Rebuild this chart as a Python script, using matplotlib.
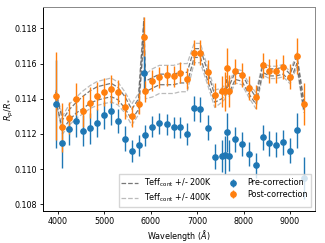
import numpy as np
import matplotlib
matplotlib.use("Agg")
import matplotlib.pyplot as plt

# wavelength bins (Angstrom)
wave = [3950, 4095, 4245, 4395, 4540, 4690, 4840, 4990, 5145, 5290,
        5440, 5590, 5735, 5850, 5885, 6035, 6185, 6340, 6490, 6635,
        6785, 6935, 7070, 7225, 7380, 7530, 7605, 7645, 7685, 7820,
        7965, 8110, 8265, 8415, 8560, 8705, 8855, 9005, 9150, 9300]

pre = [0.11368, 0.11147, 0.11226, 0.11273, 0.11219, 0.11232, 0.11260, 0.11306, 0.11332, 0.11273,
       0.11173, 0.11103, 0.11135, 0.11548, 0.11192, 0.11241, 0.11262, 0.11256, 0.11239, 0.11239,
       0.11200, 0.11345, 0.11340, 0.11236, 0.11071, 0.11075, 0.11080, 0.11209, 0.11077, 0.11169,
       0.11143, 0.11086, 0.11022, 0.11181, 0.11147, 0.11139, 0.11152, 0.11105, 0.11222, 0.10948]

post = [0.11416, 0.11237, 0.11291, 0.11400, 0.11332, 0.11378, 0.11416, 0.11440, 0.11457, 0.11438,
        0.11355, 0.11300, 0.11372, 0.11753, 0.11442, 0.11503, 0.11522, 0.11533, 0.11529, 0.11548,
        0.11514, 0.11662, 0.11662, 0.11552, 0.11421, 0.11442, 0.11442, 0.11577, 0.11446, 0.11556,
        0.11535, 0.11461, 0.11410, 0.11590, 0.11558, 0.11558, 0.11580, 0.11525, 0.11643, 0.11370]

err = [0.0025, 0.0014, 0.0009, 0.0009, 0.0009, 0.0009, 0.0008, 0.0008, 0.0008, 0.0007,
       0.0007, 0.0006, 0.0006, 0.0011, 0.0006, 0.0006, 0.0006, 0.0006, 0.0006, 0.0006,
       0.0006, 0.0007, 0.0007, 0.0007, 0.0007, 0.0009, 0.0011, 0.0011, 0.0009, 0.0007,
       0.0007, 0.0007, 0.0007, 0.0007, 0.0007, 0.0007, 0.0007, 0.0007, 0.0010, 0.0012]

# stellar contamination model and band half widths
model = [0.1142, 0.1125, 0.1131, 0.1135, 0.1138, 0.1141, 0.1143, 0.1144, 0.1145, 0.1143,
         0.1138, 0.1131, 0.1137, 0.1180, 0.1147, 0.1149, 0.1151, 0.1151, 0.1151, 0.1152,
         0.1152, 0.1166, 0.1166, 0.1153, 0.1140, 0.1142, 0.1144, 0.1149, 0.1145, 0.1153,
         0.1152, 0.1145, 0.1139, 0.1157, 0.1155, 0.1155, 0.1156, 0.1152, 0.1162, 0.1136]

w200 = [0.0002, 0.0003, 0.0003, 0.0003, 0.00035, 0.00035, 0.00038, 0.00038, 0.00038, 0.00035,
        0.00033, 0.0003, 0.0003, 0.0004, 0.0003, 0.0003, 0.0003, 0.0003, 0.0003, 0.0003,
        0.0003, 0.00025, 0.00025, 0.00025, 0.0002, 0.0002, 0.0002, 0.0002, 0.0002, 0.0002,
        0.0002, 0.0002, 0.0002, 0.0002, 0.0002, 0.0002, 0.0002, 0.0002, 0.0002, 0.0002]

w400 = [0.0003, 0.0005, 0.0006, 0.0006, 0.00065, 0.00065, 0.00068, 0.00068, 0.00068, 0.00065,
        0.0006, 0.0006, 0.0006, 0.0006, 0.0007, 0.0008, 0.0008, 0.0008, 0.0008, 0.0008,
        0.0008, 0.00055, 0.00055, 0.0005, 0.0005, 0.0004, 0.0004, 0.0004, 0.0004, 0.0004,
        0.0004, 0.0004, 0.00045, 0.00035, 0.00035, 0.00035, 0.00035, 0.00035, 0.0004, 0.0004]

plt.rcParams['font.size'] = 5.8

wave = np.array(wave)
model = np.array(model)
w200 = np.array(w200)
w400 = np.array(w400)

fig = plt.figure(figsize=(3.25, 2.43), dpi=100)
ax = fig.add_axes([0.133, 0.133, 0.836, 0.837])

dark = '#555555'
light = '#bbbbbb'
ax.plot(wave, model + w400, '--', color=light, lw=0.9, label=r'Teff$_{\rm cont}$ +/- 400K')
ax.plot(wave, model - w400, '--', color=light, lw=0.9)
ax.plot(wave, model + w200, '--', color=dark, lw=0.9, alpha=0.8, label=r'Teff$_{\rm cont}$ +/- 200K')
ax.plot(wave, model - w200, '--', color=dark, lw=0.9, alpha=0.8)

ax.errorbar(wave, pre, yerr=err, fmt='o', color='C0', ms=3.8, elinewidth=1.0, label='Pre-correction')
ax.errorbar(wave, post, yerr=err, fmt='o', color='C1', ms=3.8, elinewidth=1.0, label='Post-correction')

ax.set_xlim(3680, 9540)
ax.set_ylim(0.10764, 0.1192)
ax.set_xticks([4000, 5000, 6000, 7000, 8000, 9000])
ax.set_yticks([0.108, 0.110, 0.112, 0.114, 0.116, 0.118])
ax.tick_params(length=2.5, width=0.6, pad=2)
for s in ax.spines.values():
    s.set_linewidth(0.7)
ax.spines['top'].set_color('#888888')
ax.spines['right'].set_color('#888888')

ax.set_xlabel(r'Wavelength ($\AA$)', labelpad=1.5)
ax.set_ylabel(r'$R_p/R_*$')
ax.yaxis.set_label_coords(-0.1, 0.5)

h, l = ax.get_legend_handles_labels()
order = [1, 0, 2, 3]
ax.legend([h[i] for i in order], [l[i] for i in order], ncol=2, loc='lower right',
          fontsize=5.8, handlelength=2.0, columnspacing=1.6, borderpad=0.35,
          labelspacing=0.3, fancybox=False, edgecolor='#cccccc')

fig.savefig('out.png', dpi=100)
